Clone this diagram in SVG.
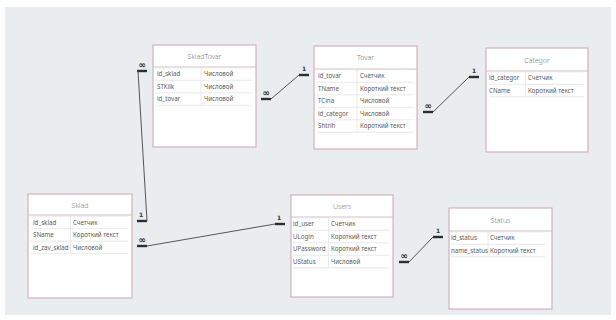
<svg xmlns="http://www.w3.org/2000/svg" width="616" height="320" viewBox="0 0 616 320">
  <style>
    .bg { fill: #e9edf0; }
    .box { fill: #ffffff; stroke: #cfa3ad; stroke-width: 1; }
    .hdr { stroke: #d2bcc0; stroke-width: 1; }
    .grid { stroke: #e4e4e4; stroke-width: 0.8; fill: none; }
    .title { font-family: "Noto Sans", "DejaVu Sans", sans-serif; font-size: 7px; font-weight: 300; fill: #777; text-anchor: middle; }
    .fld { font-family: "Noto Sans", "DejaVu Sans", sans-serif; font-size: 6.2px; fill: #5a5a5a; }
    .link { stroke: #555; stroke-width: 1; fill: none; }
    .bar { stroke: #2e2e2e; stroke-width: 2.4; }
    .card { font-family: "DejaVu Sans", sans-serif; font-size: 6px; fill: #333; text-anchor: middle; font-weight: bold; }
    .many { font-family: "DejaVu Sans", sans-serif; font-size: 9px; fill: #333; text-anchor: middle; font-weight: bold; }
  </style>

  <rect x="0" y="0" width="616" height="320" fill="#ffffff"/>
  <rect class="bg" x="5" y="7" width="606" height="308"/>

  <!-- relationship lines: thick stub + cardinality above it, thin line between stubs -->
  <g id="connectors">
    <!-- SkladTovar.id_sklad ∞ — Sklad.id_sklad 1 -->
    <line class="bar" x1="137" y1="71" x2="147" y2="71"/>
    <text class="many" x="142" y="68">∞</text>
    <line class="bar" x1="137" y1="221" x2="147" y2="221"/>
    <text class="card" x="141" y="217">1</text>
    <line class="link" x1="138" y1="71" x2="147" y2="221"/>

    <!-- SkladTovar.id_tovar ∞ — Tovar.id_tovar 1 -->
    <line class="bar" x1="261" y1="99" x2="271" y2="99"/>
    <text class="many" x="266" y="96">∞</text>
    <line class="bar" x1="299" y1="75" x2="309" y2="75"/>
    <text class="card" x="304" y="71">1</text>
    <line class="link" x1="271" y1="99" x2="299" y2="75"/>

    <!-- Tovar.id_categor ∞ — Categor.id_categor 1 -->
    <line class="bar" x1="423" y1="112" x2="433" y2="112"/>
    <text class="many" x="428" y="109">∞</text>
    <line class="bar" x1="469" y1="77" x2="479" y2="77"/>
    <text class="card" x="474" y="73">1</text>
    <line class="link" x1="433" y1="112" x2="469" y2="77"/>

    <!-- Sklad.id_zav_sklad ∞ — Users.id_user 1 -->
    <line class="bar" x1="137" y1="246" x2="147" y2="246"/>
    <text class="many" x="142" y="243">∞</text>
    <line class="bar" x1="275" y1="224" x2="285" y2="224"/>
    <text class="card" x="279" y="220">1</text>
    <line class="link" x1="147" y1="246" x2="275" y2="224"/>

    <!-- Users.UStatus ∞ — Status.id_status 1 -->
    <line class="bar" x1="399" y1="262" x2="409" y2="262"/>
    <text class="many" x="404" y="259">∞</text>
    <line class="bar" x1="433" y1="237" x2="443" y2="237"/>
    <text class="card" x="438" y="233">1</text>
    <line class="link" x1="409" y1="262" x2="433" y2="237"/>
  </g>

  <!-- SkladTovar -->
  <g id="SkladTovar">
    <rect class="box" x="153" y="45" width="103" height="102"/>
    <text class="title" x="204.5" y="59">SkladTovar</text>
    <line class="hdr" x1="153" y1="67" x2="256" y2="67"/>
    <path class="grid" d="M156 67.8H252M156 80.3H252M156 92.8H252M156 105.3H252M201 67.8V105.3"/>
    <text class="fld" x="157" y="76.3">id_sklad</text><text class="fld" x="204" y="76.3">Числовой</text>
    <text class="fld" x="157" y="88.8">STKilk</text><text class="fld" x="204" y="88.8">Числовой</text>
    <text class="fld" x="157" y="101.3">id_tovar</text><text class="fld" x="204" y="101.3">Числовой</text>
  </g>

  <!-- Tovar -->
  <g id="Tovar">
    <rect class="box" x="314" y="46" width="103" height="103"/>
    <text class="title" x="365.5" y="60">Tovar</text>
    <line class="hdr" x1="314" y1="69" x2="417" y2="69"/>
    <path class="grid" d="M317 69.8H413M317 82.3H413M317 94.8H413M317 107.3H413M317 119.8H413M317 132.3H413M357 69.8V132.3"/>
    <text class="fld" x="318" y="78.3">id_tovar</text><text class="fld" x="360" y="78.3">Счетчик</text>
    <text class="fld" x="318" y="90.8">TName</text><text class="fld" x="360" y="90.8">Короткий текст</text>
    <text class="fld" x="318" y="103.3">TCina</text><text class="fld" x="360" y="103.3">Числовой</text>
    <text class="fld" x="318" y="115.8">id_categor</text><text class="fld" x="360" y="115.8">Числовой</text>
    <text class="fld" x="318" y="128.3">Shtrih</text><text class="fld" x="360" y="128.3">Короткий текст</text>
  </g>

  <!-- Categor -->
  <g id="Categor">
    <rect class="box" x="486" y="48" width="102" height="104"/>
    <text class="title" x="537" y="63">Categor</text>
    <line class="hdr" x1="486" y1="71" x2="588" y2="71"/>
    <path class="grid" d="M489 71.8H584M489 84.3H584M489 96.8H584M525.5 71.8V96.8"/>
    <text class="fld" x="489" y="80.3">id_categor</text><text class="fld" x="528" y="80.3">Счетчик</text>
    <text class="fld" x="489" y="92.8">CName</text><text class="fld" x="528" y="92.8">Короткий текст</text>
  </g>

  <!-- Sklad -->
  <g id="Sklad">
    <rect class="box" x="28" y="194" width="104" height="104"/>
    <text class="title" x="80" y="208">Sklad</text>
    <line class="hdr" x1="28" y1="215" x2="132" y2="215"/>
    <path class="grid" d="M31 216.2H128M31 228.7H128M31 241.2H128M31 253.7H128M70.5 216.2V253.7"/>
    <text class="fld" x="33" y="224.8">id_sklad</text><text class="fld" x="73" y="224.8">Счетчик</text>
    <text class="fld" x="33" y="237.3">SName</text><text class="fld" x="73" y="237.3">Короткий текст</text>
    <text class="fld" x="33" y="249.8">id_zav_sklad</text><text class="fld" x="73" y="249.8">Числовой</text>
  </g>

  <!-- Users -->
  <g id="Users">
    <rect class="box" x="291" y="195" width="102" height="102"/>
    <text class="title" x="342" y="209">Users</text>
    <line class="hdr" x1="291" y1="217" x2="393" y2="217"/>
    <path class="grid" d="M293 217.8H389M293 230.3H389M293 242.8H389M293 255.3H389M293 267.8H389M328.5 217.8V267.8"/>
    <text class="fld" x="293" y="226.3">id_user</text><text class="fld" x="331" y="226.3">Счетчик</text>
    <text class="fld" x="293" y="238.8">ULogin</text><text class="fld" x="331" y="238.8">Короткий текст</text>
    <text class="fld" x="293" y="251.3">UPassword</text><text class="fld" x="331" y="251.3">Короткий текст</text>
    <text class="fld" x="293" y="263.8">UStatus</text><text class="fld" x="331" y="263.8">Числовой</text>
  </g>

  <!-- Status -->
  <g id="Status">
    <rect class="box" x="449" y="208" width="103" height="101"/>
    <text class="title" x="500.5" y="223">Status</text>
    <line class="hdr" x1="449" y1="231" x2="552" y2="231"/>
    <path class="grid" d="M451 231.8H545M451 244.3H545M451 256.8H545M488 231.8V256.8"/>
    <text class="fld" x="451" y="240.3">id_status</text><text class="fld" x="490" y="240.3">Счетчик</text>
    <text class="fld" x="451" y="252.8">name_status</text><text class="fld" x="490" y="252.8">Короткий текст</text>
  </g>
</svg>
